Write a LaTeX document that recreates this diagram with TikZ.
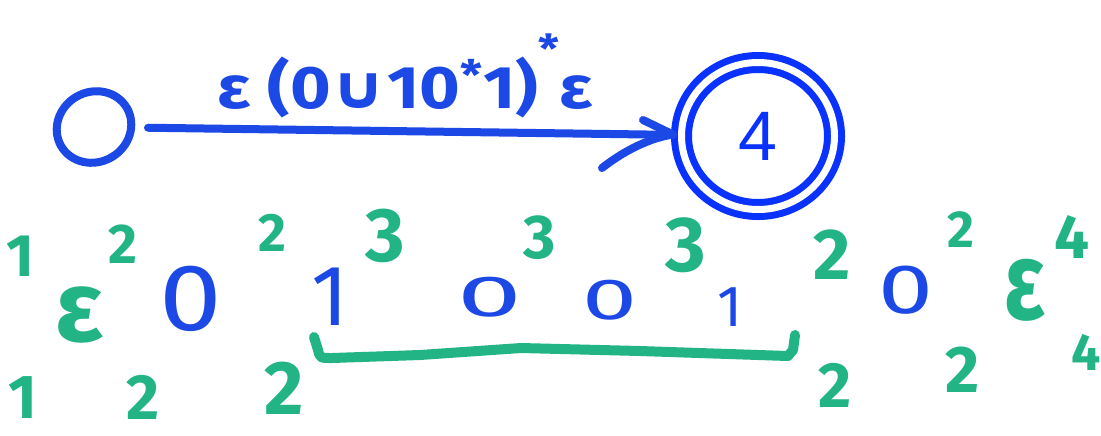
\documentclass[tikz,border=0pt]{standalone}
\usepackage{fontspec}
\setmainfont{Fira Sans}
\newfontfamily\dejavu{DejaVu Sans}
\newfontfamily\arialf{Liberation Sans}
\usetikzlibrary{shapes.geometric}
\definecolor{handblue}{RGB}{28,72,230}
\definecolor{stateblue}{RGB}{10,50,255}
\definecolor{handgreen}{RGB}{34,180,132}
\begin{document}
\begin{tikzpicture}[x=0.5pt,y=-0.5pt,
  gnum/.style={text=handgreen, inner sep=0pt, font=\bfseries\fontsize{#1}{#1}\selectfont},
  gnum/.default=30pt,
  bnum/.style={text=handblue, inner sep=0pt, font=\fontsize{#1}{#1}\selectfont},
  bnum/.default=46pt,
  stroke/.style={line width=4pt, line cap=round, line join=round},
]
\useasboundingbox[fill=white] (0,0) rectangle (1101,435);

% start state
\node[draw=handblue, line width=4pt, ellipse, minimum width=38pt, minimum height=35pt, rotate=30, inner sep=0pt] (s0) at (94,127) {};

% accepting state
\node[draw=stateblue, double=white, line width=3.5pt, double distance=3.5pt, ellipse,
      minimum width=76.5pt, minimum height=73.5pt, inner sep=0pt, text=stateblue,
      font=\arialf\fontsize{35pt}{35pt}\selectfont] (f) at (758,136) {4};

% transition
\draw[handblue, stroke, shorten <=27pt, shorten >=42.5pt] (s0.center) -- (f.center);
\coordinate (tip) at (673,134.5);
\coordinate (barbA) at (643,120);
\coordinate (barbB) at (602,168);
\draw[handblue, stroke] (barbA) -- (tip);
\draw[handblue, stroke] (barbB) .. controls (625,150) and (650,138) .. (tip);
\node[text=handblue, inner sep=0pt, xscale=1.16, font=\bfseries\fontsize{30pt}{30pt}\selectfont] (lbl) at (405,76)
  {ε (0{\dejavu ∪}10\textsuperscript{*}1)\raisebox{0.75em}{\fontsize{20pt}{20pt}\selectfont *}ε};

% input string (blue)
\node[bnum, xscale=1.22, yscale=1.03] (z1) at (191,299) {0};
\node[bnum=43pt] (o1) at (330,297) {1};
\node[bnum, xscale=1.26, yscale=0.63] (z2) at (490,297) {0};
\node[bnum, xscale=1.07, yscale=0.63] (z3) at (610,300) {0};
\node[bnum=29pt] (o2) at (730,307) {1};
\node[bnum, xscale=1.07, yscale=0.76] (z4) at (906,290) {0};

% epsilons (green)
\node[gnum=50pt] (e1) at (79,315) {ε};
\node[gnum=50pt, xscale=0.85, yscale=1.1] (e2) at (1025,290) {ε};

% upper numbers
\node[gnum=30pt] (t1) at (20,256) {1};
\node[gnum=28pt] (t2) at (123,244) {2};
\node[gnum=27pt] (t3) at (272,233) {2};
\node[gnum=38pt] (t4) at (385,236) {3};
\node[gnum=31pt] (t5) at (540,238) {3};
\node[gnum=39pt] (t6) at (686,245) {3};
\node[gnum=36pt] (t7) at (832,255) {2};
\node[gnum=26pt] (t8) at (961,230) {2};
\node[gnum=31pt] (t9) at (1072,237) {4};

% lower numbers
\node[gnum=31pt] (b1) at (23,398) {1};
\node[gnum=32pt] (b2) at (143,397) {2};
\node[gnum=38pt] (b3) at (284,388) {2};
\node[gnum=32pt] (b4) at (835,385) {2};
\node[gnum=33pt] (b5) at (963,370) {2};
\node[gnum=26pt] (b6) at (1086,352) {4};

% bracket under 1001
\draw[handgreen, line width=5pt, line cap=round, line join=round]
  (314,337) -- (318,350) .. controls (320,358) .. (332,358)
  -- (420,355) -- (521,348) -- (640,351) -- (788,356) -- (793,350) -- (795,335);
\end{tikzpicture}
\end{document}
